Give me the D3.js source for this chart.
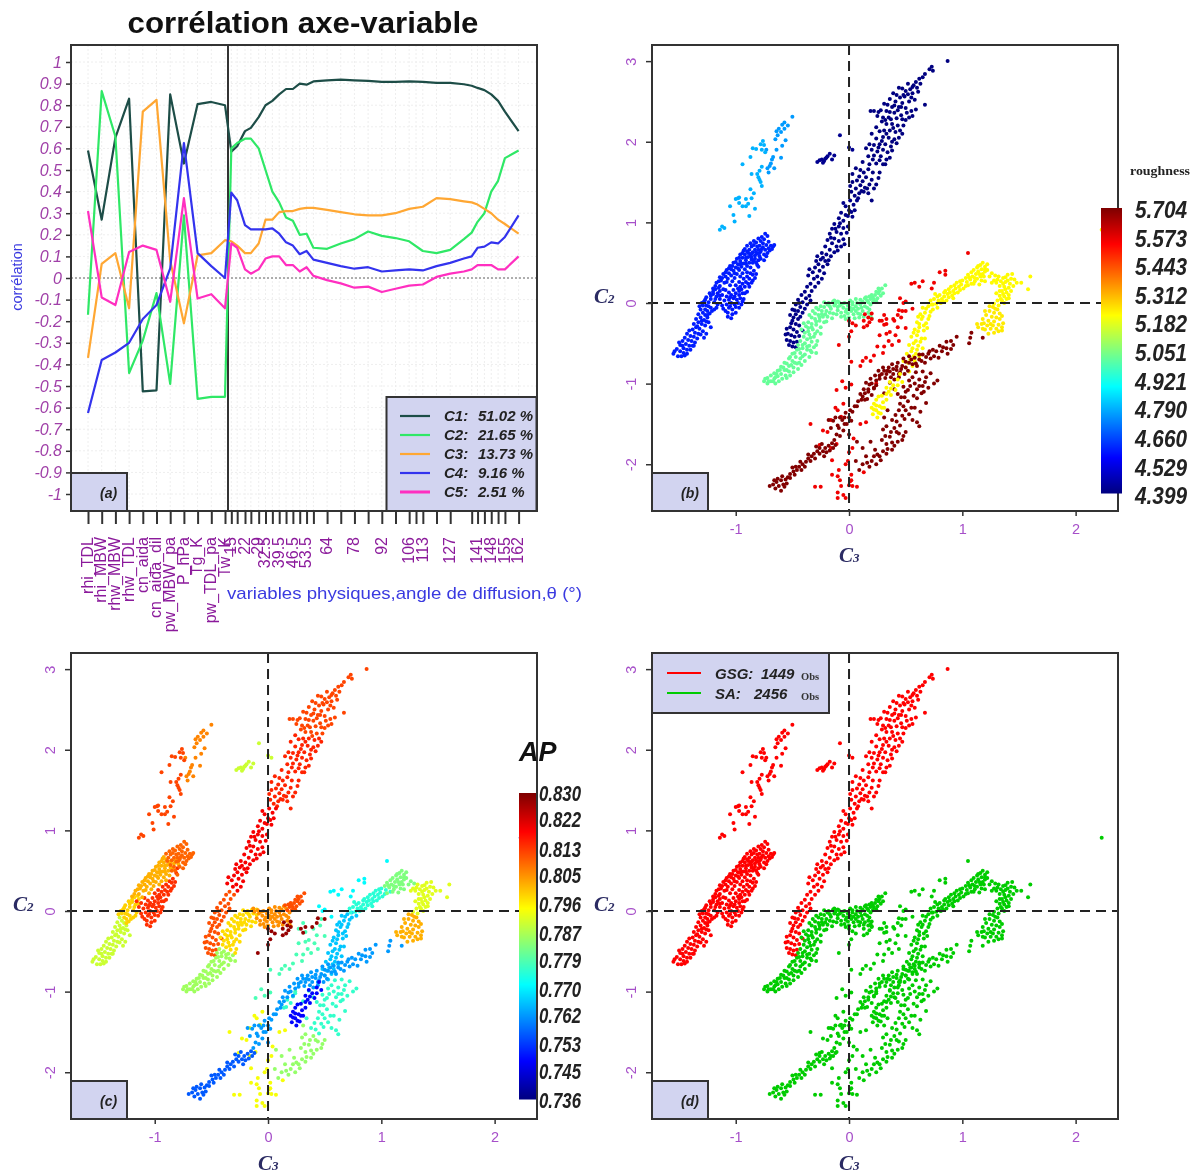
<!DOCTYPE html>
<html><head><meta charset="utf-8">
<script src="https://cdn.jsdelivr.net/npm/d3@7"></script>
<style>html,body{margin:0;padding:0;background:#fff}svg{display:block;filter:blur(.55px)}text{font-family:"Liberation Sans",Arial,sans-serif}</style>
</head><body><svg id="c" width="1195" height="1176"></svg>
<script>
// ---------- panel (a) data ----------
const variables=["rhi_TDL","rhi_MBW","rhw_MBW","rhw_TDL","cn_aida","cn_aida_dil","pw_MBW_pa","P_hPa","Tg_K","pw_TDL_pa","Tw_K"];
const angles=[15,18,22,25,29,32.5,36,39.5,43,46.5,50,53.5,57,64,71,78,85,92,99,106,113,120,127,134,138,141,144.5,148,151.5,155,162];
const angleTicks=[15,18,22,25,29,32.5,36,39.5,43,46.5,50,53.5,57,64,71,78,85,92,99,106,109.5,113,120,127,138,141,144.5,148,151.5,155,162];
const angleLabelled=[15,22,29,32.5,39.5,46.5,53.5,64,78,92,106,113,127,141,148,155,162];
const corrTicks=[1,.9,.8,.7,.6,.5,.4,.3,.2,.1,0,-.1,-.2,-.3,-.4,-.5,-.6,-.7,-.8,-.9,-1];
const c1Phys=[.59,.27,.65,.83,-.525,-.52,.85,.53,.805,.815,.80];
const c2Phys=[-.17,.865,.655,-.44,-.29,-.07,-.49,.29,-.56,-.55,-.55];
const c3Phys=[-.37,.065,.115,-.14,.77,.825,.08,-.21,.105,.115,.175];
const c4Phys=[-.625,-.38,-.345,-.30,-.19,-.125,.045,.625,.115,.055,0];
const c5Phys=[.31,-.09,-.125,.12,.15,.13,-.11,.37,-.095,-.075,-.14];
const c1Ang=[.585,.61,.68,.695,.745,.80,.82,.85,.875,.875,.90,.895,.91,.915,.918,.915,.913,.908,.908,.91,.908,.903,.903,.897,.89,.88,.87,.85,.82,.77,.68];
const c2Ang=[.60,.625,.645,.645,.60,.50,.40,.35,.28,.265,.20,.205,.14,.135,.16,.18,.215,.195,.185,.17,.125,.115,.13,.18,.21,.26,.30,.40,.45,.555,.59];
const c3Ang=[.17,.15,.115,.115,.16,.27,.27,.305,.31,.31,.32,.325,.325,.315,.305,.295,.29,.29,.30,.32,.33,.37,.365,.355,.35,.34,.32,.30,.27,.25,.205];
const c4Ang=[.395,.36,.245,.225,.225,.225,.23,.205,.165,.15,.11,.125,.085,.07,.055,.043,.05,.03,.035,.04,.035,.055,.07,.09,.10,.14,.145,.165,.16,.19,.29];
const c5Ang=[.16,.14,.04,.02,.04,.09,.10,.10,.06,.06,.03,.05,.01,-.01,-.025,-.045,-.04,-.065,-.05,-.035,-.03,.005,.02,.03,.04,.06,.06,.06,.04,.04,.10];
const compNames=["C1:","C2:","C3:","C4:","C5:"];
const compShares=["51.02 %","21.65 %","13.73 %","9.16 %","2.51 %"];
const compColors=["#1d4d47","#2fe866","#ffa733","#3333ee","#ff2fc0"];

// ---------- scatter data: flat C3,C2 pairs ----------
const roughTicks=[5.704,5.573,5.443,5.312,5.182,5.051,4.921,4.790,4.660,4.529,4.399];
const apTicks=[.830,.822,.813,.805,.796,.787,.779,.770,.762,.753,.745,.736];
const sparseUpperA=[-.5,2.31,-.57,2.24,-.59,2.21,-.54,2.2,-.62,2.16,-.64,2.13,-.57,2.16,-.65,2.03,-.56,2.02,-.64,1.9,-.59,1.95,-.67,1.81,-.6,1.8,-.69,1.73,-.66,1.67,-.72,1.67,-.73,1.9,-.63,2.08,-.6,2.12,-.68,1.78,-.7,1.7,-.71,1.62];
const sparseUpperB=[-.76,2.01,-.75,1.96,-.78,1.97,-.85,1.92,-.82,1.91,-.87,1.81,-.94,1.72,-.77,1.69,-.81,1.6,-.86,1.6,-.8,1.56,-.78,1.5,-.77,1.45,-.87,1.41,-.84,1.36,-.98,1.3,-1,1.29,-.86,1.3,-.91,1.29,-1.05,1.2,-.94,1.2,-.91,1.2,-.83,1.17,-1.02,1.09,-.88,1.08,-1.01,1.01,-1.12,.95,-1.14,.91,-.97,1.31,-.89,1.23,-1.1,.93,-.74,1.87,-.77,1.9,-.79,1.64,-.79,1.53,-.97,1.24];
const blueTop=[-.72,.83,-.74,.86,-.71,.76,-.75,.79,-.77,.82,-.73,.72,-.76,.74,-.78,.77,-.8,.8,-.79,.71,-.82,.75,-.77,.67,-.8,.66,-.84,.72,-.83,.66,-.86,.7,-.81,.61,-.85,.63,-.88,.66,-.67,.7,-.68,.67,-.7,.65,-.72,.62,-.75,.6,-.78,.55,-.74,.66,-.66,.72,-.69,.71,-.71,.68,-.79,.62,-.83,.55,-.85,.5,-.76,.69,-.78,.64,-.81,.7,-.84,.77,-.87,.74,-.9,.71,-.89,.62,-.86,.57,-.82,.5,-.8,.45,-.75,.53,-.73,.58];
const blueMidWarm=[-.79,.58,-.83,.59,-.87,.6,-.9,.64,-.86,.54,-.89,.57,-.92,.6,-.84,.52,-.88,.5,-.91,.53,-.94,.56,-.9,.46,-.93,.49,-.96,.52,-.87,.44,-.92,.42,-.95,.45,-.98,.48,-.9,.38,-.94,.37,-.97,.41,-1,.44,-.96,.33,-.99,.36,-1.02,.4,-1.01,.31,-1.04,.34,-1.06,.37,-1.03,.27,-1.07,.3,-1.09,.33,-1.1,.25,-1.13,.28,-.86,.61,-.82,.63,-.91,.56,-.96,.48,-1.04,.42,-1.08,.26,-1.05,.22,-1.11,.17,-1.14,.21,-1.17,.25,-1.14,.32,-1.11,.36,-1.08,.41,-1.05,.46,-1.02,.5,-.99,.55,-.96,.6,-.93,.65,-1.12,.31,-1.09,.38,-1.06,.43,-1.03,.46,-1,.51,-.97,.56,-.94,.62,-.92,.67,-1.18,.21,-1.15,.27,-1.2,.18,-1.01,.37,-.98,.43,-.95,.49,-.91,.49];
const blueMidHot=[-.93,.3,-.9,.33,-.87,.37,-.84,.4,-.81,.47,-.8,.53,-.97,.26,-.94,.24,-.91,.26,-.88,.3,-.85,.35,-1,.22,-.98,.18,-.95,.17,-.92,.2,-.89,.24,-1.02,.16,-1,.12,-.97,.1,-.94,.12,-1.04,.1,-1.02,.06,-.99,.04,-.96,.06,-1.06,.04,-1.04,0,-1.01,-.02,-.98,0,-1.08,-.02,-1.06,-.06,-1.03,-.08,-1,-.05,-1.09,-.1,-1.07,-.12,-1.05,-.04,-1.12,-.03,-1.1,.03,-1.08,.08,-1.06,.13,-1.09,.16,-1.12,.1,-1.14,.05,-1.16,.12,-.82,.36,-.85,.28,-.88,.2,-.9,.14,-.93,.05,-.95,-.02,-.97,-.06,-1,-.12,-1.03,-.14,-1.07,-.17,-1.04,-.19,-.92,.12,-.86,.25,-.83,.31,-.96,.2,-.94,.02,-.97,.15,-1.01,.08,-1.05,.07,-1.11,-.07];
const blueLowWarm=[-1.14,.15,-1.17,.08,-1.18,.17,-1.2,.11,-1.22,.05,-1.19,.01,-1.16,-.02,-1.24,.01,-1.26,-.03,-1.22,-.06,-1.19,-.08,-1.29,-.03,-1.27,-.08,-1.25,-.1,-1.23,-.13,-1.28,.02,-1.2,.14,-1.15,.19,-1.23,.12,-1.26,.07,-1.3,0,-1.17,-.06,-1.21,-.1,-1.24,-.04,-1.18,.05,-1.14,.09,-1.27,.04,-1.32,-.04,-1.22,.09,-1.25,-.15];
const blueLowCool=[-1.31,-.08,-1.29,-.12,-1.27,-.15,-1.25,-.18,-1.33,-.14,-1.31,-.18,-1.28,-.21,-1.35,-.2,-1.33,-.24,-1.3,-.26,-1.27,-.28,-1.37,-.26,-1.35,-.3,-1.32,-.32,-1.29,-.35,-1.38,-.33,-1.36,-.37,-1.33,-.38,-1.41,-.34,-1.43,-.38,-1.4,-.41,-1.37,-.42,-1.34,-.44,-1.45,-.43,-1.42,-.46,-1.39,-.47,-1.36,-.49,-1.47,-.47,-1.44,-.51,-1.41,-.53,-1.38,-.53,-1.49,-.52,-1.46,-.56,-1.43,-.58,-1.4,-.58,-1.52,-.57,-1.49,-.6,-1.46,-.62,-1.43,-.63,-1.55,-.63,-1.51,-.66,-1.48,-.66,-1.24,-.24,-1.22,-.3,-1.26,-.38,-1.28,-.43,-1.37,-.53,-1.5,-.49,-1.3,-.22,-1.26,-.23,-1.34,-.29,-1.31,-.39,-1.45,-.65,-1.54,-.6,-1.47,-.53];
const navyTop=[.87,3,.73,2.93,.71,2.9,.74,2.88,.67,2.84,.62,2.78,.65,2.8,.59,2.74,.57,2.7,.6,2.67,.54,2.65,.5,2.63,.47,2.66,.44,2.67,.52,2.59,.56,2.6,.49,2.56,.45,2.55,.42,2.58,.39,2.6,.36,2.53,.41,2.5,.47,2.48,.53,2.5,.58,2.52,.67,2.46,.34,2.46,.38,2.43,.44,2.43,.5,2.42,.31,2.47,.28,2.39,.33,2.38,.4,2.36,.46,2.33,.53,2.3,.56,2.32,.42,2.29,.35,2.3,.3,2.3,.19,2.38,.22,2.38,.26,2.37,.29,2.25,.33,2.22,.38,2.22,.43,2.2,.48,2.2,.5,2.27,.63,2.72,.56,2.68,.52,2.72,.48,2.58,.4,2.45,.43,2.39,.36,2.37,.25,2.32,.61,2.62,.55,2.55,.46,2.43,.51,2.36,.59,2.4,.55,2.38,.47,2.28,.37,2.28,.32,2.27,.39,2.17];
const navyMidUp=[.24,2.18,.27,2.13,.31,2.14,.36,2.14,.41,2.12,.45,2.14,.47,2.1,.2,2.1,.24,2.04,.3,2.06,.35,2.05,.4,2.03,.44,2.05,.18,1.97,.22,1.96,.27,1.97,.32,1.97,.37,1.94,.42,1.98,.15,1.92,.2,1.9,.25,1.88,.3,1.9,.34,1.87,.38,1.89,.17,1.82,.22,1.83,.28,1.82,.33,1.78,.36,1.8,.12,1.75,.18,1.72,.24,1.73,.3,1.72,.06,1.67,.1,1.65,.13,1.62,.17,1.66,.21,1.62,.27,1.62,.32,1.72,.03,1.6,.09,1.57,.15,1.56,.2,1.53,.26,1.55,.01,1.45,.03,1.5,.06,1.42,.1,1.46,.14,1.43,.18,1.47,.24,1.47,.02,1.38,.05,1.33,.09,1.36,.13,1.38,.17,1.36,.2,1.27,.33,2.1,.29,2.01,.38,2,.26,1.93,.21,1.78,.27,1.77,.12,1.51,.07,1.52,.11,1.39,.08,1.3,.16,1.42,.22,1.42];
const navyMidLow=[.07,1.27,.04,1.22,.01,1.27,0,1.15,-.03,1.2,-.05,1.24,.02,1.13,.05,1.15,-.07,1.12,-.03,1.09,.03,1.07,-.09,1.05,-.05,1.02,-.01,.95,-.13,.98,-.09,.95,-.05,.93,-.02,.87,-.15,.92,-.11,.88,-.07,.86,-.17,.86,-.13,.8,-.09,.77,-.05,.79,-.19,.78,-.15,.74,-.11,.7,-.07,.7,-.21,.7,-.17,.66,-.13,.63,-.24,.62,-.2,.6,-.16,.58,-.25,.54,-.21,.52,-.27,.48,-.23,.45,-.19,.48,-.3,.44,-.26,.4,-.22,.37,-.32,.38,-.28,.33,-.24,.3,-.36,.34,-.31,.3,-.27,.25,-.01,1.08,-.08,.99,-.12,.92,-.16,.81,-.04,.73,-.1,.65,-.28,.58,-.29,.52,-.23,.56,-.18,.53,-.35,.42];
const navyLow=[-.34,.24,-.3,.2,-.37,.2,-.33,.15,-.39,.14,-.35,.09,-.42,.1,-.38,.06,-.34,.03,-.45,.04,-.41,.01,-.37,-.02,-.47,-.02,-.43,-.05,-.39,-.07,-.45,-.1,-.41,-.12,-.5,-.08,-.47,-.14,-.43,-.17,-.52,-.15,-.49,-.18,-.45,-.2,-.5,-.22,-.47,-.26,-.44,-.28,-.52,-.3,-.49,-.33,-.46,-.36,-.41,-.34,-.54,-.38,-.51,-.4,-.48,-.42,-.44,-.41,-.55,-.46,-.52,-.47,-.49,-.49,-.46,-.48,-.53,-.52,-.5,-.54,-.47,-.55,-.55,-.32,-.56,-.39,-.51,-.25,-.48,-.09,-.44,.0];
const smallGroup=[-.28,1.75,-.26,1.77,-.24,1.78,-.22,1.76,-.2,1.8,-.17,1.85,-.19,1.82,-.21,1.79,-.13,1.83,-.15,1.78,-.23,1.74,-.08,2.08,0,1.93,.03,1.9];
const sprayCentre=[-.02,-.08,.02,-.1,.06,-.04,.1,-.02,.04,-.14,.08,-.13,.12,-.1,.14,-.04,.16,-.06,-.04,-.16,0,-.18,.05,-.19,.09,-.18,.13,-.17,.17,-.12,.19,-.02,.12,.02,.16,.03,.07,.0,.03,-.02,-.01,-.03,-.05,-.06,-.03,-.11,-.07,-.12,-.08,-.03,-.12,-.01,-.04,0,-.01,-.13,.01,-.06,.04,-.07,.06,-.1,.08,-.07,.11,-.06,.1,-.14,.03,.01,-.06,-.01,-.1,-.09,-.07,-.17,-.03,-.2,.18,-.08,.19,-.16,.2,-.19,.1,.04,.14,.06,.06,.05,.01,.03,-.09,.01,-.13,.03];
const greenRight=[.21,.07,.19,.05,.23,.1,.26,.12,.22,.04,.27,.15,.25,.06,.29,.18,.32,.22,.2,.1,.28,.09,.24,.14,.18,.08,.15,.07,.21,.01,.17,.01,.24,.02,.3,.12,.26,.18];
const greenMid=[-.1,-.05,-.13,-.03,-.16,-.07,-.19,-.02,-.22,-.05,-.25,-.04,-.17,-.12,-.2,-.1,-.24,-.1,-.14,-.13,-.27,-.08,-.27,-.15,-.23,-.17,-.19,-.17,-.3,-.13,-.3,-.2,-.26,-.22,-.22,-.24,-.33,-.18,-.33,-.26,-.29,-.27,-.25,-.3,-.36,-.24,-.36,-.31,-.32,-.33,-.28,-.35,-.38,-.29,-.39,-.37,-.35,-.39,-.31,-.42,-.25,-.38,-.4,-.42,-.37,-.45,-.33,-.48,-.28,-.47,-.18,.0,-.22,.01,-.14,.02,-.1,.02,-.15,-.19,-.2,-.23,-.11,-.14,-.29,-.06,-.32,-.1,-.35,-.15,-.4,-.25,-.42,-.33,-.24,-.14,-.21,-.14,-.17,-.04,-.26,-.18,-.29,-.23,-.33,-.3,-.36,-.35,-.3,-.38,-.34,-.43,-.29,-.52];
const greenLeft=[-.43,-.47,-.39,-.5,-.35,-.53,-.31,-.55,-.45,-.52,-.41,-.56,-.37,-.58,-.33,-.61,-.29,-.62,-.46,-.58,-.43,-.62,-.39,-.64,-.35,-.67,-.5,-.63,-.47,-.67,-.43,-.69,-.39,-.72,-.53,-.69,-.5,-.72,-.46,-.75,-.42,-.77,-.57,-.74,-.53,-.78,-.49,-.8,-.45,-.82,-.6,-.79,-.57,-.83,-.53,-.85,-.49,-.86,-.63,-.84,-.6,-.88,-.56,-.9,-.52,-.9,-.66,-.87,-.63,-.91,-.59,-.94,-.55,-.93,-.69,-.9,-.66,-.94,-.62,-.97,-.72,-.93,-.69,-.97,-.65,-1,-.75,-.97,-.72,-1,-.74,-.94,-.41,-.52,-.44,-.57,-.37,-.54,-.34,-.59,-.48,-.62,-.41,-.66,-.52,-.67,-.48,-.74,-.44,-.74,-.55,-.75,-.51,-.77,-.58,-.8,-.55,-.83,-.61,-.83,-.65,-.92,-.67,-.97,-.71,-.97,-.64,-.88];
const yellowLow=[.2,-1.3,.22,-1.25,.24,-1.2,.21,-1.38,.24,-1.33,.27,-1.28,.3,-1.23,.25,-1.42,.28,-1.37,.31,-1.3,.29,-1.15,.33,-1.2,.35,-1.1,.33,-1.05,.37,-1.14,.39,-1.02,.41,-1.08,.36,-.98,.43,-.95,.47,-.98,.45,-.88,.26,-1.16,.22,-1.32,.26,-1.36,.29,-1.3,.33,-1.13,.37,-1.06,.43,-1.02,.24,-1.27];
const yellowMid=[.53,-.85,.56,-.78,.5,-.8,.54,-.7,.58,-.72,.51,-.63,.55,-.6,.59,-.63,.62,-.66,.53,-.52,.57,-.5,.61,-.53,.65,-.56,.55,-.42,.6,-.4,.64,-.44,.58,-.33,.62,-.3,.66,-.34,.6,-.24,.64,-.2,.68,-.25,.63,-.14,.67,-.12,.71,-.16,.65,-.06,.7,-.04,.74,-.08,.52,-.74,.57,-.66,.6,-.58,.56,-.56,.59,-.47,.63,-.48,.67,-.44,.57,-.37,.61,-.35,.69,-.31,.62,-.26,.66,-.28,.61,-.17,.65,-.17,.7,-.2,.68,-.07,.72,-.11,.48,-.72,.74,-.02,.78,-.06];
const yellowUp=[.73,-.02,.77,-.01,.75,.05,.79,.03,.83,.02,.8,.1,.84,.08,.88,.07,.85,.15,.89,.13,.93,.12,.9,.2,.94,.18,.98,.16,.95,.25,.99,.23,1.03,.21,.81,.0,.86,.03,.91,.09,.96,.13,1.0,.28,1.04,.26,1.08,.24,.78,.08,.82,.05,.87,.11,.92,.15,.97,.2,1.01,.18,.84,.13,.88,.17,.93,.22,.98,.27,.8,.01,.92,.06,.72,.03,.76,.11];
const yellowTop=[1.03,.31,1.07,.29,1.11,.27,1.05,.35,1.09,.33,1.13,.3,1.08,.38,1.12,.36,1.16,.33,1.1,.41,1.14,.39,1.18,.36,1.13,.44,1.17,.42,1.2,.39,1.16,.47,1.2,.45,1.22,.41,1.18,.5,1.22,.48,1.05,.22,1.15,.23,1.2,.27,1.24,.33,1.26,.37,1.29,.34,1.06,.32,1.11,.31,1.15,.36,1.19,.33,1.14,.46,1.2,.42,1.1,.24,1.17,.28];
const yellowRight=[1.28,.28,1.32,.33,1.36,.31,1.4,.35,1.43,.3,1.3,.25,1.34,.27,1.38,.26,1.42,.24,1.46,.29,1.48,.25,1.33,.21,1.37,.2,1.41,.19,1.45,.21,1.35,.15,1.39,.13,1.43,.15,1.33,.09,1.37,.08,1.41,.1,1.31,.03,1.35,.03,1.39,.05,1.28,-.01,1.32,-.03,1.37,0,1.6,.33,1.58,.17,1.52,.25,1.36,.24,1.4,.28,1.31,.29,1.26,.25,1.38,.17,1.36,.11,1.33,.15,1.3,.12,1.38,.32,1.44,.36,1.41,.06,1.34,.05];
const yellowHook=[1.27,-.05,1.31,-.08,1.24,-.1,1.28,-.12,1.33,-.13,1.21,-.15,1.26,-.17,1.3,-.18,1.18,-.2,1.23,-.22,1.28,-.23,1.33,-.2,1.13,-.26,1.17,-.26,1.22,-.28,1.27,-.28,1.32,-.27,1.36,-.25,1.14,-.3,1.2,-.33,1.25,-.32,1.3,-.32,1.35,-.3,1.23,-.38,1.28,-.37,1.32,-.35,1.35,-.16,1.24,-.04,1.2,-.1,1.19,-.25,1.25,-.26,1.29,-.07,1.35,-.34,1.18,-.32];
const darkBandLow=[-.7,-2.27,-.67,-2.25,-.64,-2.22,-.62,-2.27,-.6,-2.33,-.58,-2.25,-.56,-2.19,-.6,-2.2,-.54,-2.16,-.52,-2.12,-.49,-2.09,-.46,-2.07,-.44,-2.03,-.41,-2,-.38,-1.97,-.36,-1.93,-.47,-2.03,-.42,-2.07,-.33,-1.9,-.31,-1.87,-.28,-1.84,-.26,-1.87,-.23,-1.84,-.21,-1.8,-.18,-1.77,-.15,-1.74,-.29,-1.78,-.2,-1.85,-.55,-2.24,-.65,-2.3,-.66,-2.2,-.63,-2.18,-.59,-2.15,-.57,-2.28,-.52,-2.17,-.5,-2.04,-.48,-2.13,-.43,-1.97,-.39,-2.03,-.36,-1.88,-.34,-1.96,-.3,-1.93,-.26,-1.8,-.24,-1.75,-.22,-1.9,-.17,-1.83,-.14,-1.8,-.12,-1.76];
const darkBandMid=[-.13,-1.7,-.11,-1.63,-.08,-1.65,-.05,-1.58,-.1,-1.52,-.14,-1.46,-.06,-1.45,-.02,-1.5,0,-1.42,.02,-1.46,-.03,-1.36,.01,-1.33,.05,-1.28,.08,-1.22,.11,-1.2,-.08,-1.42,-.12,-1.42,0,-1.63,.03,-1.35,.12,-1.16,.14,-1.12,.17,-1.07,.2,-1.0,.24,-.96,.27,-.94,.15,-.99,.19,-.94,.23,-.9,.29,-.88,.33,-.88,.36,-.85,.39,-.88,.42,-.83,.45,-.86,.47,-.78,.5,-.8,.53,-.74,.56,-.76,.58,-.68,.62,-.7,.65,-.64,.68,-.67,.71,-.6,.74,-.58,.77,-.6,.8,-.53,.83,-.55,.86,-.48,.9,-.47,.95,-.42,.67,-.74,.72,-.69,.79,-.68,.87,-.63,.9,-.57,.4,-.95,.44,-.92,.49,-.88,.3,-.8,.35,-.8,.38,-.76,.43,-.74,.48,-.69,.53,-.66,1.07,-.43,1.08,-.37,1.06,-.5,1.18,-.43,.26,-.84,.31,-.84,.27,-.9,.32,-.93,.37,-.92,.34,-.84,.39,-.82,.42,-.79,.46,-.82,.44,-.88,.5,-.73,.52,-.84,.55,-.7,.59,-.75,.62,-.64,.6,-.78,.64,-.72,.7,-.63,.75,-.66,.82,-.6,.86,-.56,.92,-.52,.07,-1.28,.1,-1.13,.13,-1.07,.18,-1.01,.22,-1.05,-.04,-1.42,-.09,-1.55,-.04,-1.5,-.16,-1.55,-.18,-1.45];
const darkLumpUp=[.17,-1.1,.2,-1.14,.16,-1.19,.22,-1.06,.14,-1.2,.24,-1.02,.31,-1.12,.36,-.99,.4,-1.07,.43,-1.13,.46,-1.17,.5,-1.1,.54,-1.03,.58,-1,.62,-.95,.68,-.92,.65,-1.03,.6,-1.07,.57,-1.15,.52,-1.22,.48,-1.28,.44,-1.33,.67,-.98,.72,-.87,.75,-1,.78,-.96,.53,-.96,.48,-1.04,.7,-1.05,.64,-1.12,.6,-1.18,.68,-1.24,.55,-1.3,.34,-1.33,.38,-1.45,.41,-1.39,.45,-1.52,.49,-1.44,.53,-1.38,.56,-1.45,.6,-1.48,.62,-1.53,.56,-.92,.59,-.86,.65,-.85,.52,-1.08,.49,-1.17,.62,-1.03,.66,-1.1,.45,-1.25,.5,-1.33,.58,-1.3,.63,-1.35,.47,-1.4,.42,-1.47];
const darkLumpLow=[.31,-1.42,.33,-1.53,.37,-1.6,.4,-1.55,.44,-1.62,.48,-1.65,.5,-1.6,.29,-1.7,.33,-1.75,.38,-1.73,.43,-1.72,.47,-1.7,.38,-1.82,.33,-1.87,.27,-1.9,.23,-1.82,.19,-1.72,.12,-1.8,.15,-1.9,.2,-1.96,.24,-2,.18,-2.03,.12,-2,.06,-1.96,.09,-2.07,.28,-1.95,.32,-1.65,.07,-1.72,.34,-1.81,.3,-1.84,.25,-1.88,.36,-1.66,.42,-1.6,.3,-1.57,.22,-1.9,.16,-1.98,.4,-1.77];
const scatterLow=[-.34,-1.5,-.23,-1.58,-.16,-1.45,-.1,-1.33,-.07,-1.41,-.05,-1.25,-.12,-1.3,-.19,-1.6,-.26,-1.76,-.16,-1.8,-.15,-1.95,-.11,-1.75,-.01,-1.96,.04,-1.68,.03,-1.8,.1,-1.5,.15,-1.48,-.03,-2,0,-1.85,.13,-2.1,.02,-2.13,.02,-2.2,0,-2.26,-.15,-2.13,-.09,-2.07,-.1,-2.15,-.08,-2.2,-.07,-2.27,-.1,-2.35,-.1,-2.42,-.05,-2.38,-.03,-2.42,.01,-2.21,.03,-2.27,.07,-2.28,-.3,-2.28,-.25,-2.28];
const scatterMid=[.02,-.73,.02,-1.01,-.03,-1.05,-.11,-1.08,-.06,-.97,.12,-.72,.15,-.68,.19,-.72,.1,-.78,.25,-.54,.27,-.4,.31,-.54,.35,-.47,.3,-.62,.41,-.4,.36,-.36,.43,-.3,.33,-.26,.27,-.22,.31,-.15,.4,-.22,.46,-.18,.47,-.1,.5,-.31,.24,-1,.22,-.65,.38,-.52,.33,-.38,.44,-.47];
const scatterUp=[.55,.24,.58,.25,.65,.27,.62,.2,.75,.25,.8,.38,.85,.35,.85,.4,1.05,.62,.5,.02,.45,.06,.48,0,.56,-.07,.73,.18];
const scatterDark=[0,-.22,.03,-.25,.06,-.28,.02,-.35,0,-.42,.13,-.22,.16,-.28,.13,-.3,.17,-.18,.2,-.2,.29,-.22,.31,-.27,.33,-.2,.39,-.2,.43,-.15,.44,-.09,.5,-.1,-.09,-.52,.2,-.13,.18,-.24,.14,-.14];
const outlier=[2.23,.91];

// table mapping each group of dots to its roughness, AP and observation class
const groups=[
 {pts:sparseUpperA,r:4.76,ap:.806,cl:"GSG"},{pts:sparseUpperB,r:4.79,ap:.812,cl:"GSG"},
 {pts:blueLowCool,r:4.6,ap:.79,cl:"GSG"},{pts:blueLowWarm,r:4.6,ap:.799,cl:"GSG"},
 {pts:blueMidHot,r:4.59,ap:.814,cl:"GSG"},{pts:blueMidWarm,r:4.6,ap:.802,cl:"GSG"},{pts:blueTop,r:4.6,ap:.809,cl:"GSG"},
 {pts:navyTop,r:4.4,ap:.812,cl:"GSG"},{pts:navyMidUp,r:4.4,ap:.815,cl:"GSG"},{pts:navyMidLow,r:4.41,ap:.819,cl:"GSG"},{pts:navyLow,r:4.41,ap:.811,cl:"GSG"},
 {pts:smallGroup,r:4.42,ap:.79,cl:"GSG"},
 {pts:greenLeft,r:5.02,ap:.786,cl:"SA"},{pts:greenMid,r:5.02,ap:.798,cl:"SA"},{pts:sprayCentre,r:5.02,ap:.805,cl:"SA"},{pts:greenRight,r:5.02,ap:.811,cl:"SA"},
 {pts:yellowMid,r:5.22,ap:.766,cl:"SA"},{pts:yellowUp,r:5.22,ap:.775,cl:"SA"},{pts:yellowTop,r:5.22,ap:.783,cl:"SA"},{pts:yellowRight,r:5.22,ap:.792,cl:"SA"},{pts:yellowHook,r:5.24,ap:.802,cl:"SA"},
 {pts:scatterLow,r:5.56,ap:.794,cl:"SA"},{pts:scatterMid,r:5.56,ap:.778,cl:"SA"},{pts:scatterUp,r:5.56,ap:.771,cl:"SA"},{pts:scatterDark,r:5.56,ap:.828,cl:"SA"},
 {pts:darkLumpLow,r:5.7,ap:.785,cl:"SA"},{pts:darkLumpUp,r:5.7,ap:.776,cl:"SA"},{pts:darkBandLow,r:5.7,ap:.756,cl:"SA"},{pts:darkBandMid,r:5.7,ap:.762,cl:"SA"},
 {pts:yellowLow,r:5.22,ap:.748,cl:"SA"},{pts:outlier,r:5.2,ap:.74,cl:"SA"}
];

const jet=["#00007f","#0000ff","#007fff","#00ffff","#7fff7f","#ffff00","#ff7f00","#ff0000","#7f0000"];
const jetScale=(lo,hi)=>d3.scaleLinear().domain(d3.range(9).map(i=>lo+(hi-lo)*i/8)).range(jet).clamp(true);
const roughColor=jetScale(4.399,5.704), apColor=jetScale(.736,.830);
const classColor={GSG:"#ff0000",SA:"#00cc00"};

const svg=d3.select("#c");
const INK="#333", BOX="#d2d4f0", PURPLE="#a64fc9", NAVY="#2b2b63";

function box(x,y,w,h){svg.append("rect").attr("x",x).attr("y",y).attr("width",w).attr("height",h).attr("fill",BOX).attr("stroke",INK).attr("stroke-width",2);}
function tag(t,x,y){svg.append("text").attr("x",x).attr("y",y).attr("font-size",14).attr("font-weight","bold").attr("font-style","italic").attr("fill","#222").text(t);}
function frame(x,y,w,h){svg.append("rect").attr("x",x).attr("y",y).attr("width",w).attr("height",h).attr("fill","none").attr("stroke",INK).attr("stroke-width",2);}
function cLabel(x,y,n){const t=svg.append("text").attr("x",x).attr("y",y).attr("fill",NAVY).attr("font-weight","bold").attr("font-style","italic").style("font-family","'Liberation Serif',serif");
 t.append("tspan").attr("font-size",21).text("C");t.append("tspan").attr("font-size",13).text(n);}

// ---------- panel (a) ----------
(function(){
 const L=71,T=45,S=466;
 const xv=d3.scalePoint().domain(variables).range([88,225]);
 const xa=d3.scaleLinear().domain([22,162]).range([245,518.6]);
 const y=d3.scaleLinear().domain([0,1]).range([278,62]);
 const grid=svg.append("g").attr("stroke","#eeeeee").attr("stroke-dasharray","2,2");
 corrTicks.forEach(v=>grid.append("line").attr("x1",L).attr("x2",L+S).attr("y1",y(v)).attr("y2",y(v)));
 variables.forEach(v=>grid.append("line").attr("x1",xv(v)).attr("x2",xv(v)).attr("y1",T).attr("y2",T+S));
 angleTicks.forEach(v=>grid.append("line").attr("x1",xa(v)).attr("x2",xa(v)).attr("y1",T).attr("y2",T+S));
 svg.append("line").attr("x1",L).attr("x2",L+S).attr("y1",y(0)).attr("y2",y(0)).attr("stroke","#666").attr("stroke-dasharray","2,2");
 svg.append("line").attr("x1",228).attr("x2",228).attr("y1",T).attr("y2",T+S).attr("stroke","#000").attr("stroke-width",1.6);
 const series=[[c1Phys,c1Ang],[c2Phys,c2Ang],[c3Phys,c3Ang],[c4Phys,c4Ang],[c5Phys,c5Ang]];
 const line=d3.line().x(d=>d[0]).y(d=>y(d[1]));
 series.forEach((s,i)=>{
  const pts=variables.map((v,j)=>[xv(v),s[0][j]]).concat(angles.map((a,j)=>[xa(a),s[1][j]]));
  svg.append("path").attr("d",line(pts)).attr("fill","none").attr("stroke",compColors[i]).attr("stroke-width",2.2).attr("stroke-linejoin","round");
 });
 const ay=d3.axisLeft(y).tickValues(corrTicks).tickSize(5).tickPadding(4);
 const gy=svg.append("g").attr("transform",`translate(${L},0)`).call(ay);
 gy.select(".domain").remove();
 gy.selectAll("line").attr("stroke",INK).attr("stroke-width",1.5);
 gy.selectAll("text").attr("fill","#a040a8").attr("font-size",16).attr("font-style","italic").style("font-family","'Liberation Sans',sans-serif").text(d=>String(d));
 const style=(g)=>{g.select(".domain").remove();g.selectAll("line").attr("stroke",INK).attr("stroke-width",2);
  g.selectAll("text").attr("fill","#8b1a9b").attr("font-size",16).style("font-family","'Liberation Sans',sans-serif").attr("text-anchor","end").attr("dominant-baseline","middle").attr("transform","translate(0,26) rotate(-90)").attr("x",0).attr("y",0).attr("dy",null);};
 svg.append("g").attr("transform",`translate(0,${T+S})`).call(d3.axisBottom(xv).tickSize(13)).call(style);
 svg.append("g").attr("transform",`translate(0,${T+S})`).call(d3.axisBottom(xa).tickValues(angleTicks).tickSize(13).tickFormat(d=>angleLabelled.includes(d)?d:"")).call(style);
 frame(L,T,S,S);
 svg.append("text").attr("x",303).attr("y",33).attr("text-anchor","middle").attr("font-size",30).attr("font-weight","bold").attr("fill","#111").attr("textLength",351).attr("lengthAdjust","spacingAndGlyphs").text("corrélation axe-variable");
 svg.append("text").attr("transform","translate(22,277) rotate(-90)").attr("text-anchor","middle").attr("font-size",14.5).attr("fill","#3a3ae0").text("corrélation");
 svg.append("text").attr("x",227).attr("y",599).attr("font-size",17).attr("fill","#3a3ae0").attr("textLength",355).attr("lengthAdjust","spacingAndGlyphs").text("variables physiques,angle de diffusion,θ (°)");
 box(386.5,397,150,114);
 compNames.forEach((n,i)=>{const yy=416+i*19;
  svg.append("line").attr("x1",400).attr("x2",430).attr("y1",yy).attr("y2",yy).attr("stroke",compColors[i]).attr("stroke-width",i==4?3:2.2);
  svg.append("text").attr("x",444).attr("y",yy+5).attr("font-size",15).attr("font-weight","bold").attr("font-style","italic").attr("fill","#222").text(n);
  svg.append("text").attr("x",478).attr("y",yy+5).attr("font-size",15).attr("font-weight","bold").attr("font-style","italic").attr("fill","#222").text(compShares[i]);
 });
 box(71,473,56,38);tag("(a)",100,498);
})();

// ---------- scatter panels ----------
function scatter(L,T,colorOf,name,c2x){
 const S=466;
 const x=d3.scaleLinear().domain([-1.739,2.374]).range([L,L+S]);
 const y=d3.scaleLinear().domain([-2.58,3.2]).range([T+S,T]);
 const g=svg.append("g");
 groups.forEach(gr=>{
  const col=colorOf(gr);
  d3.range(0,gr.pts.length,2).forEach(i=>g.append("circle").attr("cx",x(gr.pts[i])).attr("cy",y(gr.pts[i+1])).attr("r",2).attr("fill",col));
 });
 const dash=svg.append("g").attr("stroke","#222").attr("stroke-width",2).attr("stroke-dasharray","10,6");
 dash.append("line").attr("x1",L-4).attr("x2",L+S).attr("y1",y(0)).attr("y2",y(0));
 dash.append("line").attr("x1",x(0)).attr("x2",x(0)).attr("y1",T).attr("y2",T+S);
 const gx=svg.append("g").attr("transform",`translate(0,${T+S})`).call(d3.axisBottom(x).tickValues([-1,0,1,2]).tickSize(5).tickPadding(8));
 const gy=svg.append("g").attr("transform",`translate(${L},0)`).call(d3.axisLeft(y).tickValues([-2,-1,0,1,2,3]).tickSize(6));
 [gx,gy].forEach(a=>{a.select(".domain").remove();a.selectAll("line").attr("stroke",INK).attr("stroke-width",1.5);
  a.selectAll("text").attr("fill",PURPLE).attr("font-size",14.5).style("font-family","'Liberation Sans',sans-serif").text(d=>String(d));});
 gy.selectAll("text").attr("text-anchor","middle").attr("transform","translate(-21,0) rotate(-90)").attr("x",0).attr("y",0).attr("dy","0.35em");
 frame(L,T,S,S);
 box(L,T+S-38,56,38);tag(name,L+29,T+S-13);
 cLabel(L-58,T+258,"2");
 cLabel(L+187,T+517,"3");
}
scatter(652,45,g=>roughColor(g.r),"(b)");
scatter(71,653,g=>apColor(g.ap),"(c)");
scatter(652,653,g=>classColor[g.cl],"(d)");

function bar(x,w,top,bottom,lo,hi,cs){
 const s=d3.scaleLinear().domain([lo,hi]).range([bottom,top]);
 svg.append("g").selectAll("rect").data(d3.range(bottom-top)).join("rect").attr("x",x).attr("width",w).attr("y",d=>top+d).attr("height",1.5).attr("fill",d=>cs(s.invert(top+d)));
}
bar(1101,21,208,493,4.399,5.704,roughColor);
const rl=d3.scaleLinear().domain([4.399,5.704]).range([504,218]);
roughTicks.forEach(v=>svg.append("text").attr("x",1135).attr("y",rl(v)).attr("font-size",24).attr("font-weight","bold").attr("font-style","italic").attr("fill","#222").attr("textLength",52).attr("lengthAdjust","spacingAndGlyphs").text(v.toFixed(3)));
svg.append("text").attr("x",1130).attr("y",175).attr("font-size",12).attr("font-weight","bold").attr("fill","#222").style("font-family","'Liberation Serif',serif").attr("textLength",60).attr("lengthAdjust","spacingAndGlyphs").text("roughness");
bar(519,17,793,1099,.736,.830,apColor);
const al=d3.scaleLinear().domain([.736,.830]).range([1108,801]);
apTicks.forEach(v=>svg.append("text").attr("x",539).attr("y",al(v)).attr("font-size",22).attr("font-weight","bold").attr("font-style","italic").attr("fill","#222").attr("textLength",42).attr("lengthAdjust","spacingAndGlyphs").text(v.toFixed(3)));
svg.append("text").attr("x",519).attr("y",761).attr("font-size",27).attr("font-weight","bold").attr("font-style","italic").attr("fill","#111").text("AP");

box(652,653,177,60);
const obsRows=[["GSG:","1449","#ff0000",761],["SA:","2456","#00cc00",754]];
obsRows.forEach((r,i)=>{const yy=673+i*20;
 svg.append("line").attr("x1",667).attr("x2",701).attr("y1",yy).attr("y2",yy).attr("stroke",r[2]).attr("stroke-width",2);
 svg.append("text").attr("x",715).attr("y",yy+6).attr("font-size",15).attr("font-weight","bold").attr("font-style","italic").attr("fill","#222").text(r[0]);
 svg.append("text").attr("x",r[3]).attr("y",yy+6).attr("font-size",15).attr("font-weight","bold").attr("font-style","italic").attr("fill","#222").text(r[1]);
 svg.append("text").attr("x",801).attr("y",yy+7).attr("font-size",10.5).attr("font-weight","bold").attr("fill","#333").style("font-family","'Liberation Serif',serif").text("Obs");
});
</script></body></html>
